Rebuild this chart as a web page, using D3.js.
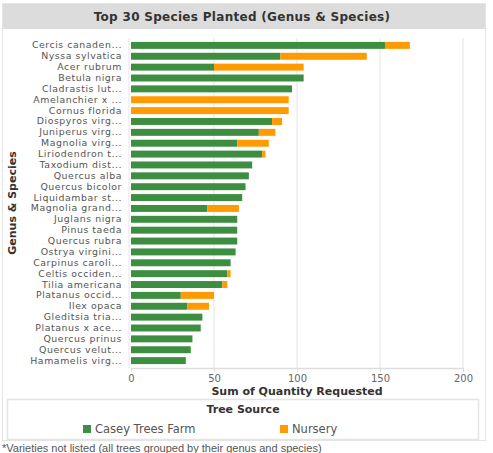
<!DOCTYPE html>
<html>
<head>
<meta charset="utf-8">
<script src="https://cdn.jsdelivr.net/npm/d3@7"></script>
<style>
  body { margin: 0; background: #fff; font-family: "Liberation Sans", Arial, sans-serif; }
</style>
</head>
<body>
<svg id="chart"></svg>
<script>
let w = 493;
let h = 453;
let margin = { top: 38, right: 30, bottom: 85, left: 131 };
const wide = "'DejaVu Sans', Verdana, sans-serif";

// species (top to bottom)
const species = ["Cercis canaden...", "Nyssa sylvatica", "Acer rubrum", "Betula nigra", "Cladrastis lut...",
  "Amelanchier x ...", "Cornus florida", "Diospyros virg...", "Juniperus virg...", "Magnolia virg...",
  "Liriodendron t...", "Taxodium dist...", "Quercus alba", "Quercus bicolor", "Liquidambar st...",
  "Magnolia grand...", "Juglans nigra", "Pinus taeda", "Quercus rubra", "Ostrya virgini...",
  "Carpinus caroli...", "Celtis occiden...", "Tilia americana", "Platanus occid...", "Ilex opaca",
  "Gleditsia tria...", "Platanus x ace...", "Quercus prinus", "Quercus velut...", "Hamamelis virg..."];

const caseyFarm = [153, 90, 50, 104, 97, 0, 0, 85, 77, 64, 79, 73, 71, 69, 67,
  46, 64, 64, 64, 63, 60, 58, 55, 30, 34, 43, 42, 37, 36, 33];
const nursery = [15, 52, 54, 0, 0, 95, 95, 6, 10, 19, 2, 0, 0, 0, 0,
  19, 0, 0, 0, 0, 0, 2, 3, 20, 13, 0, 0, 0, 0, 0];

const sources = ["Casey Trees Farm", "Nursery"];
const colors = ["#3e8e41", "#ff9b00"];
const xTicks = [0, 50, 100, 150, 200];

let svg = d3.select("#chart").attr("width", w).attr("height", h);

// panel frame
svg.append("rect").attr("x", 2.5).attr("y", 3.5).attr("width", 483).attr("height", 437)
   .attr("fill", "none").attr("stroke", "#e4e4e4");
svg.append("rect").attr("x", 3).attr("y", 4).attr("width", 482).attr("height", 25).attr("fill", "#dcdcdc");
svg.append("text").attr("x", 242).attr("y", 20.5).attr("text-anchor", "middle")
   .attr("font-family", wide).attr("font-size", 12).attr("font-weight", "bold").attr("fill", "#333")
   .attr("letter-spacing", 0.3)
   .text("Top 30 Species Planted (Genus & Species)");

let rows = species.map((s, i) => ({ name: s, farm: caseyFarm[i], nursery: nursery[i] }));
let stacked = d3.stack().keys(["farm", "nursery"])(rows);

let x = d3.scaleLinear([0, 200], [margin.left, 463]);
let y = d3.scaleBand(species, [margin.top, h - margin.bottom]).padding(0.36);

// gridlines
svg.append("g").selectAll("line").data(xTicks.slice(1)).join("line")
   .attr("x1", d => x(d)).attr("x2", d => x(d))
   .attr("y1", margin.top).attr("y2", h - margin.bottom)
   .attr("stroke", "#ececec").attr("stroke-width", 1.5);

svg.append("line").attr("x1", margin.left - 2).attr("x2", margin.left - 2)
   .attr("y1", margin.top).attr("y2", h - margin.bottom).attr("stroke", "#e6e6e6");

// bars
svg.append("g").selectAll("g").data(stacked).join("g")
   .attr("fill", (d, i) => colors[i])
   .selectAll("rect").data(d => d).join("rect")
   .attr("x", d => x(d[0]))
   .attr("y", d => y(d.data.name))
   .attr("width", d => x(d[1]) - x(d[0]))
   .attr("height", y.bandwidth());

// y axis labels
let yAxis = d3.axisLeft(y).tickSize(0).tickPadding(9);
let yg = svg.append("g").attr("transform", `translate(${margin.left},0)`).call(yAxis);
yg.select(".domain").remove();
yg.selectAll("text").attr("font-size", 9.4).attr("fill", "#555").attr("font-family", wide)
  .attr("letter-spacing", 0.55);

// x axis
let xAxis = d3.axisBottom(x).tickValues(xTicks).tickSize(4).tickSizeOuter(0);
let xg = svg.append("g").attr("transform", `translate(0,${h - margin.bottom})`).call(xAxis);
xg.select(".domain").attr("stroke", "#ddd").attr("stroke-width", 1.5);
xg.selectAll(".tick line").attr("stroke", "#ddd");
xg.selectAll("text").attr("font-size", 10).attr("fill", "#666").attr("font-family", wide);

svg.append("text").attr("x", (margin.left + 463) / 2).attr("y", 395).attr("text-anchor", "middle")
   .attr("font-family", wide).attr("font-size", 11).attr("font-weight", "bold").attr("fill", "#333")
   .text("Sum of Quantity Requested");

svg.append("text").attr("transform", `translate(16,${(margin.top + h - margin.bottom) / 2}) rotate(-90)`)
   .attr("text-anchor", "middle").attr("font-family", wide).attr("font-size", 11)
   .attr("font-weight", "bold").attr("fill", "#333")
   .text("Genus & Species");

// legend
let legend = svg.append("g");
legend.append("rect").attr("x", 7.5).attr("y", 399.5).attr("width", 471).attr("height", 40)
      .attr("fill", "none").attr("stroke", "#e4e4e4").attr("stroke-width", 1.5);
legend.append("text").attr("x", 243).attr("y", 413).attr("text-anchor", "middle")
      .attr("font-family", wide).attr("font-size", 11).attr("font-weight", "bold").attr("fill", "#333")
      .text("Tree Source");
let legendX = [83, 280];
let items = legend.selectAll("g.item").data(sources).join("g").attr("class", "item")
      .attr("transform", (d, i) => `translate(${legendX[i]},425)`);
items.append("rect").attr("width", 8).attr("height", 8).attr("fill", (d, i) => colors[i]);
items.append("text").attr("x", 12).attr("y", 8).attr("font-family", wide).attr("font-size", 11.5)
     .attr("fill", "#555").text(d => d);

svg.append("text").attr("x", 2).attr("y", 452).attr("font-size", 11).attr("fill", "#555")
   .text("*Varieties not listed (all trees grouped by their genus and species)");
</script>
</body>
</html>
